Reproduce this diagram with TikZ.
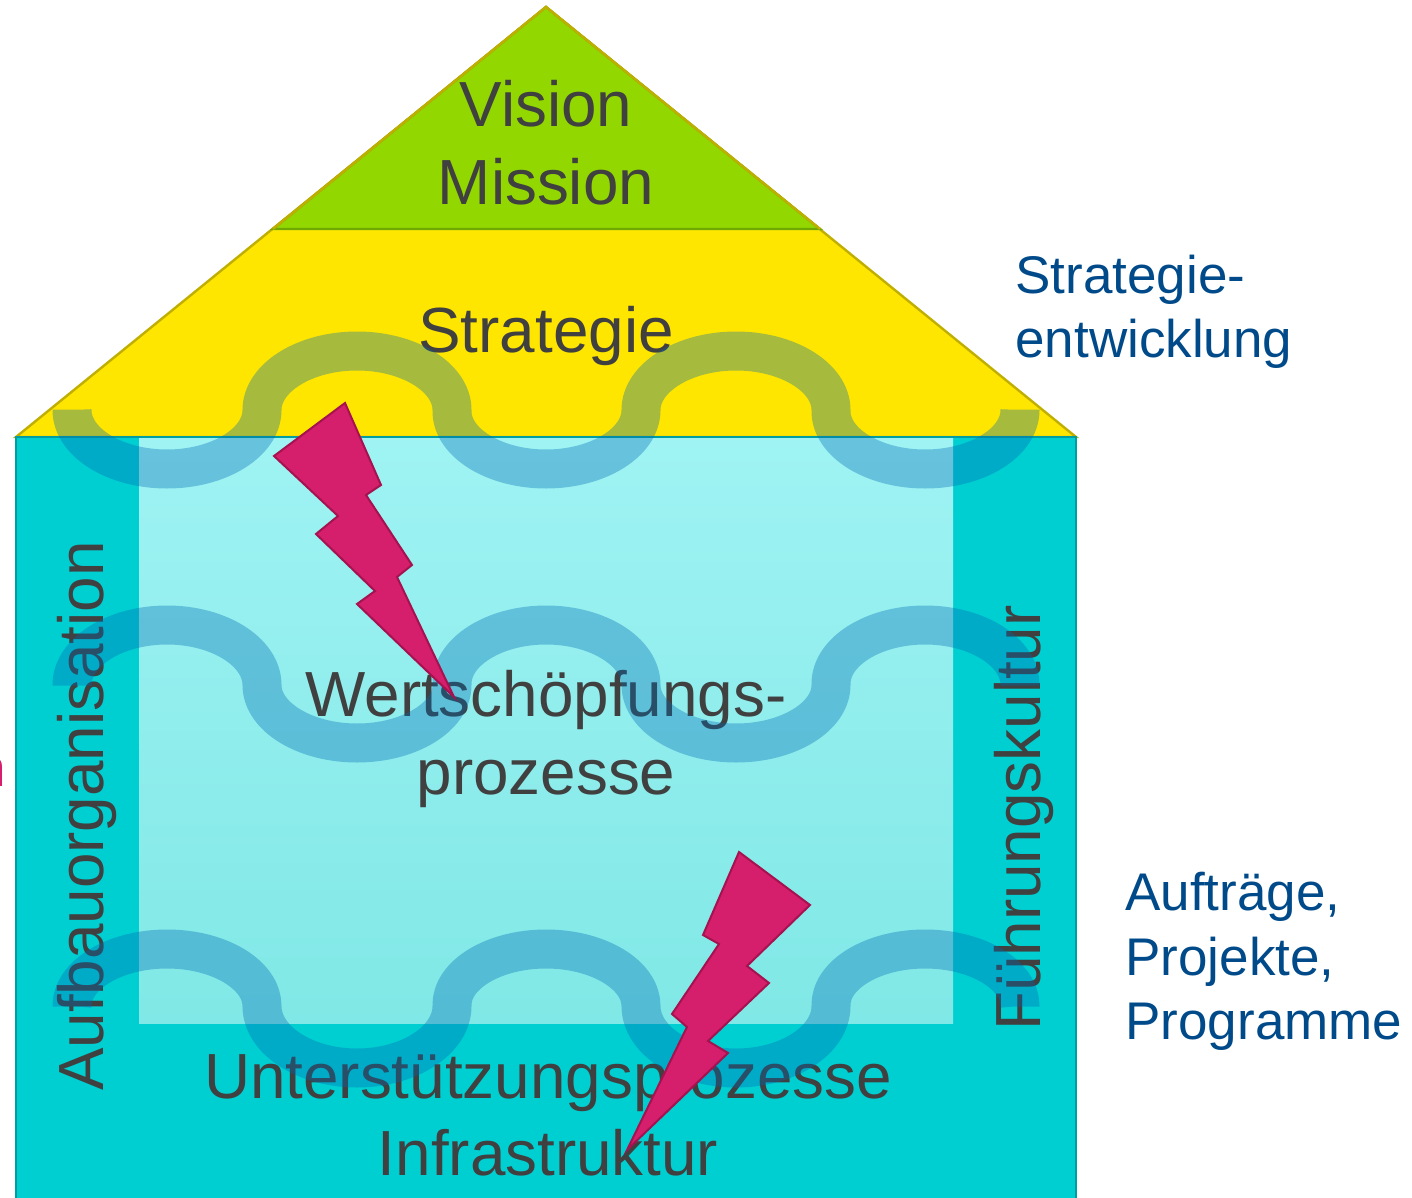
\documentclass[tikz,border=0pt]{standalone}
\usepackage{fontspec}
\setmainfont{Liberation Sans}
\definecolor{txtgrey}{HTML}{404040}
\definecolor{txtblue}{HTML}{004A8A}
\definecolor{roofyellow}{HTML}{FFE600}
\definecolor{roofline}{HTML}{C0AE00}
\definecolor{topgreen}{HTML}{92D800}
\definecolor{topline}{HTML}{6FA800}
\definecolor{bodycyan}{HTML}{00CFD2}
\definecolor{bodyline}{HTML}{009EA0}
\definecolor{innertop}{HTML}{9FF3F3}
\definecolor{innerbot}{HTML}{80E8E6}
\definecolor{wavecol}{HTML}{0069B4}
\definecolor{boltfill}{HTML}{D61F6C}
\definecolor{boltline}{HTML}{A5124F}
\tikzset{
  main/.style={anchor=base,inner sep=0pt,text=txtgrey,font=\fontsize{31.9pt}{31.9pt}\selectfont},
  side/.style={anchor=base west,inner sep=0pt,text=txtblue,font=\fontsize{26.5pt}{26.5pt}\selectfont},
  wavestroke/.style={draw=wavecol,draw opacity=0.35,line width=19.5pt,line cap=butt,line join=round},
  bolt/.style={fill=boltfill,draw=boltline,line width=1pt,line join=miter}
}
\newcommand{\wavearc}[3]{.. controls ({#1},{#2+0.55*(#3)}) and ({#1+43},{#2+(#3)}) .. ({#1+95},{#2+(#3)}) .. controls ({#1+147},{#2+(#3)}) and ({#1+190},{#2+0.55*(#3)}) .. ({#1+190},{#2})}
\begin{document}
\begin{tikzpicture}[x=0.5pt,y=-0.5pt]
\useasboundingbox (0,0) rectangle (1412,1198);
\clip (0,0) rectangle (1412,1198);
% house
\fill[roofyellow,draw=roofline,line width=1.2pt,line join=miter] (546,7) -- (1076,437) -- (16,437) -- cycle;
\fill[topgreen,draw=topline,line width=1.2pt] (546,7) -- (820,229) -- (273,229) -- cycle;
\draw[roofline,line width=1.2pt] (273,229) -- (546,7) -- (820,229);
\fill[bodycyan,draw=bodyline,line width=1.3pt] (16,437) rectangle (1076,1215);
\shade[top color=innertop,bottom color=innerbot] (139,438) rectangle (953,1023);
% texts
\node[main] (vision) at (546,127) {Vision};
\node[main] (mission) at (546,205) {Mission};
\node[main] (strategie) at (546,352) {Strategie};
\node[main] (wert) at (546,716) {Wertschöpfungs-};
\node[main] (proz) at (546,794) {prozesse};
\node[main] (unter) at (548,1098) {Unterstützungsprozesse};
\node[main] (infra) at (548,1175) {Infrastruktur};
\node[main,rotate=90] (aufbau) at (103,816) {Aufbauorganisation};
\node[main,rotate=90] (fuehr) at (1040,818) {Führungskultur};
\node[side] (se1) at (1015,293) {Strategie-};
\node[side] (se2) at (1015,357) {entwicklung};
\node[side] (ap1) at (1125,910) {Aufträge,};
\node[side] (ap2) at (1125,975) {Projekte,};
\node[side] (ap3) at (1125,1039) {Programme};
\node[anchor=base east,inner sep=0pt,text=boltfill,font=\fontsize{26.5pt}{26.5pt}\selectfont] (cut) at (6,786) {n};
% waves
\draw[wavestroke] (72,409.5) -- (72,410) \wavearc{72}{410}{59} \wavearc{262}{410}{-59} \wavearc{451}{410}{59} \wavearc{641}{410}{-59} \wavearc{830}{410}{59} -- (1020,409.5);
\draw[wavestroke] (72,685.5) -- (72,685) \wavearc{72}{685}{-60} \wavearc{262}{685}{58} \wavearc{451}{685}{-60} \wavearc{641}{685}{58} \wavearc{830}{685}{-60} -- (1020,685.5);
\draw[wavestroke] (72,1006.5) -- (72,1006) \wavearc{72}{1006}{-57} \wavearc{262}{1006}{62} \wavearc{451}{1006}{-57} \wavearc{641}{1006}{62} \wavearc{830}{1006}{-57} -- (1020,1006.5);
% bolts
\draw[bolt] (345,403) -- (381,485) -- (366,495) -- (412,565) -- (397,577) -- (454,697) -- (357,604) -- (375,591) -- (316,534) -- (338,516) -- (274,456) -- cycle;
\draw[bolt] (739,852) -- (810,905) -- (747,966) -- (769,983) -- (708,1041) -- (728,1053) -- (627,1150) -- (687,1027) -- (672,1014) -- (719,944) -- (703,935) -- cycle;
\end{tikzpicture}
\end{document}
